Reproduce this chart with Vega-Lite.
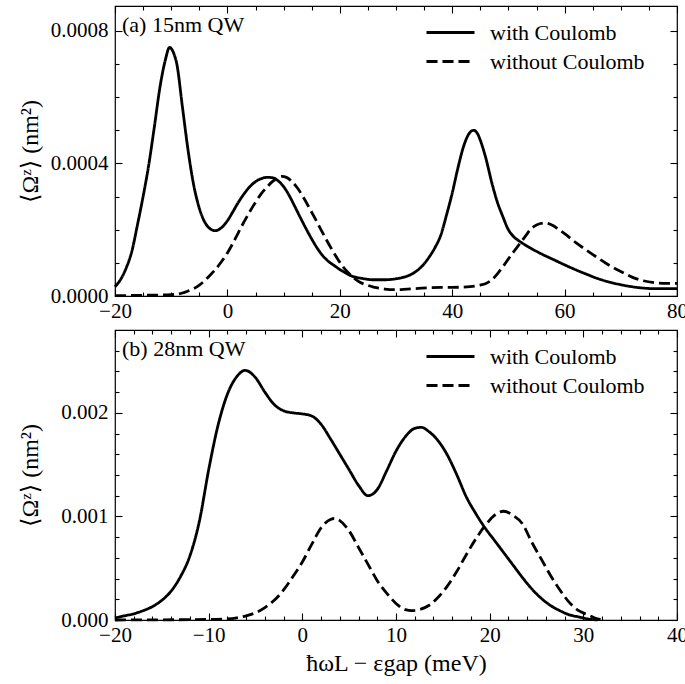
{
"$schema": "https://vega.github.io/schema/vega-lite/v6.json",
"padding": {"left": 17, "top": 4, "right": 8, "bottom": 5},
"background": "white",
"config": {
  "view": {"stroke": "black", "strokeWidth": 1.2},
  "font": "Liberation Serif, DejaVu Serif, serif",
  "axis": {"grid": false, "domain": false, "tickColor": "black", "tickWidth": 1.1, "labelColor": "black", "titleColor": "black", "labelFont": "Liberation Serif, DejaVu Serif, serif", "titleFont": "Liberation Serif, DejaVu Serif, serif", "labelFontSize": 21, "titleFontSize": 24, "titleFontWeight": "normal", "labelFlush": false, "labelOverlap": false},
  "legend": {"orient": "none", "legendX": 319, "legendY": 10, "title": null, "labelFont": "Liberation Serif, DejaVu Serif, serif", "labelFontSize": 22, "labelColor": "black", "symbolType": "M-1.6,0H1.6", "symbolStrokeWidth": 3, "symbolSize": 900, "symbolStrokeColor": "black", "labelOffset": 23, "padding": 0, "rowPadding": 1},
  "line": {"color": "black", "strokeWidth": 2.8, "interpolate": "monotone"}
},
"datasets": {
"a": [
{"e":-20,"v":0.28e-4,"s":"with Coulomb"},{"e":-19,"v":0.5e-4,"s":"with Coulomb"},{"e":-18,"v":0.85e-4,"s":"with Coulomb"},{"e":-17,"v":1.35e-4,"s":"with Coulomb"},{"e":-16,"v":2.15e-4,"s":"with Coulomb"},{"e":-15,"v":3.0e-4,"s":"with Coulomb"},{"e":-14,"v":3.95e-4,"s":"with Coulomb"},{"e":-13,"v":5.1e-4,"s":"with Coulomb"},{"e":-12,"v":6.3e-4,"s":"with Coulomb"},{"e":-11,"v":7.15e-4,"s":"with Coulomb"},{"e":-10.3,"v":7.5e-4,"s":"with Coulomb"},{"e":-9.5,"v":7.3e-4,"s":"with Coulomb"},{"e":-9,"v":7.0e-4,"s":"with Coulomb"},{"e":-8,"v":5.7e-4,"s":"with Coulomb"},{"e":-7,"v":4.4e-4,"s":"with Coulomb"},{"e":-6,"v":3.35e-4,"s":"with Coulomb"},{"e":-5,"v":2.65e-4,"s":"with Coulomb"},{"e":-4,"v":2.22e-4,"s":"with Coulomb"},{"e":-3,"v":2.02e-4,"s":"with Coulomb"},{"e":-2.2,"v":1.97e-4,"s":"with Coulomb"},{"e":-1,"v":2.07e-4,"s":"with Coulomb"},{"e":0,"v":2.27e-4,"s":"with Coulomb"},{"e":1,"v":2.55e-4,"s":"with Coulomb"},{"e":2,"v":2.84e-4,"s":"with Coulomb"},{"e":3,"v":3.09e-4,"s":"with Coulomb"},{"e":4,"v":3.3e-4,"s":"with Coulomb"},{"e":5,"v":3.45e-4,"s":"with Coulomb"},{"e":6,"v":3.54e-4,"s":"with Coulomb"},{"e":7,"v":3.58e-4,"s":"with Coulomb"},{"e":8,"v":3.57e-4,"s":"with Coulomb"},{"e":9,"v":3.48e-4,"s":"with Coulomb"},{"e":10,"v":3.3e-4,"s":"with Coulomb"},{"e":11,"v":3.03e-4,"s":"with Coulomb"},{"e":12,"v":2.7e-4,"s":"with Coulomb"},{"e":13,"v":2.36e-4,"s":"with Coulomb"},{"e":14,"v":2.03e-4,"s":"with Coulomb"},{"e":15,"v":1.72e-4,"s":"with Coulomb"},{"e":16,"v":1.44e-4,"s":"with Coulomb"},{"e":17,"v":1.21e-4,"s":"with Coulomb"},{"e":18,"v":1.04e-4,"s":"with Coulomb"},{"e":19,"v":0.92e-4,"s":"with Coulomb"},{"e":20,"v":0.8e-4,"s":"with Coulomb"},{"e":21,"v":0.7e-4,"s":"with Coulomb"},{"e":22,"v":0.61e-4,"s":"with Coulomb"},{"e":24,"v":0.53e-4,"s":"with Coulomb"},{"e":26,"v":0.49e-4,"s":"with Coulomb"},{"e":28,"v":0.49e-4,"s":"with Coulomb"},{"e":30,"v":0.52e-4,"s":"with Coulomb"},{"e":32,"v":0.6e-4,"s":"with Coulomb"},{"e":33,"v":0.68e-4,"s":"with Coulomb"},{"e":34,"v":0.8e-4,"s":"with Coulomb"},{"e":35,"v":0.97e-4,"s":"with Coulomb"},{"e":36,"v":1.2e-4,"s":"with Coulomb"},{"e":37,"v":1.48e-4,"s":"with Coulomb"},{"e":38,"v":1.85e-4,"s":"with Coulomb"},{"e":39,"v":2.45e-4,"s":"with Coulomb"},{"e":40,"v":3.1e-4,"s":"with Coulomb"},{"e":41,"v":3.85e-4,"s":"with Coulomb"},{"e":42,"v":4.5e-4,"s":"with Coulomb"},{"e":43,"v":4.9e-4,"s":"with Coulomb"},{"e":43.8,"v":5.0e-4,"s":"with Coulomb"},{"e":44.5,"v":4.9e-4,"s":"with Coulomb"},{"e":45,"v":4.7e-4,"s":"with Coulomb"},{"e":46,"v":4.15e-4,"s":"with Coulomb"},{"e":47,"v":3.45e-4,"s":"with Coulomb"},{"e":48,"v":2.85e-4,"s":"with Coulomb"},{"e":49,"v":2.4e-4,"s":"with Coulomb"},{"e":50,"v":2.0e-4,"s":"with Coulomb"},{"e":51,"v":1.78e-4,"s":"with Coulomb"},{"e":52,"v":1.65e-4,"s":"with Coulomb"},{"e":54,"v":1.44e-4,"s":"with Coulomb"},{"e":56,"v":1.26e-4,"s":"with Coulomb"},{"e":58,"v":1.1e-4,"s":"with Coulomb"},{"e":60,"v":0.94e-4,"s":"with Coulomb"},{"e":62,"v":0.79e-4,"s":"with Coulomb"},{"e":64,"v":0.65e-4,"s":"with Coulomb"},{"e":66,"v":0.52e-4,"s":"with Coulomb"},{"e":68,"v":0.42e-4,"s":"with Coulomb"},{"e":70,"v":0.34e-4,"s":"with Coulomb"},{"e":72,"v":0.28e-4,"s":"with Coulomb"},{"e":74,"v":0.24e-4,"s":"with Coulomb"},{"e":76,"v":0.22e-4,"s":"with Coulomb"},{"e":78,"v":0.22e-4,"s":"with Coulomb"},{"e":80,"v":0.22e-4,"s":"with Coulomb"},
{"e":-20,"v":0.01e-4,"s":"without Coulomb"},{"e":-15,"v":0.02e-4,"s":"without Coulomb"},{"e":-10,"v":0.04e-4,"s":"without Coulomb"},{"e":-8,"v":0.09e-4,"s":"without Coulomb"},{"e":-7,"v":0.15e-4,"s":"without Coulomb"},{"e":-6,"v":0.22e-4,"s":"without Coulomb"},{"e":-5,"v":0.33e-4,"s":"without Coulomb"},{"e":-4,"v":0.47e-4,"s":"without Coulomb"},{"e":-3,"v":0.64e-4,"s":"without Coulomb"},{"e":-2,"v":0.83e-4,"s":"without Coulomb"},{"e":-1,"v":1.05e-4,"s":"without Coulomb"},{"e":0,"v":1.3e-4,"s":"without Coulomb"},{"e":1,"v":1.6e-4,"s":"without Coulomb"},{"e":2,"v":1.93e-4,"s":"without Coulomb"},{"e":3,"v":2.25e-4,"s":"without Coulomb"},{"e":4,"v":2.55e-4,"s":"without Coulomb"},{"e":5,"v":2.83e-4,"s":"without Coulomb"},{"e":6,"v":3.08e-4,"s":"without Coulomb"},{"e":7,"v":3.28e-4,"s":"without Coulomb"},{"e":8,"v":3.45e-4,"s":"without Coulomb"},{"e":9,"v":3.57e-4,"s":"without Coulomb"},{"e":9.7,"v":3.61e-4,"s":"without Coulomb"},{"e":10.5,"v":3.58e-4,"s":"without Coulomb"},{"e":11.5,"v":3.45e-4,"s":"without Coulomb"},{"e":12.5,"v":3.25e-4,"s":"without Coulomb"},{"e":13.5,"v":2.98e-4,"s":"without Coulomb"},{"e":14.5,"v":2.68e-4,"s":"without Coulomb"},{"e":15.5,"v":2.37e-4,"s":"without Coulomb"},{"e":16.5,"v":2.05e-4,"s":"without Coulomb"},{"e":17.5,"v":1.73e-4,"s":"without Coulomb"},{"e":18.5,"v":1.43e-4,"s":"without Coulomb"},{"e":19.5,"v":1.15e-4,"s":"without Coulomb"},{"e":20.5,"v":0.9e-4,"s":"without Coulomb"},{"e":21.5,"v":0.7e-4,"s":"without Coulomb"},{"e":22.5,"v":0.54e-4,"s":"without Coulomb"},{"e":23.5,"v":0.42e-4,"s":"without Coulomb"},{"e":24.5,"v":0.35e-4,"s":"without Coulomb"},{"e":26,"v":0.27e-4,"s":"without Coulomb"},{"e":28,"v":0.21e-4,"s":"without Coulomb"},{"e":30,"v":0.19e-4,"s":"without Coulomb"},{"e":32,"v":0.21e-4,"s":"without Coulomb"},{"e":34,"v":0.23e-4,"s":"without Coulomb"},{"e":36,"v":0.25e-4,"s":"without Coulomb"},{"e":38,"v":0.26e-4,"s":"without Coulomb"},{"e":40,"v":0.26e-4,"s":"without Coulomb"},{"e":42,"v":0.27e-4,"s":"without Coulomb"},{"e":44,"v":0.3e-4,"s":"without Coulomb"},{"e":45,"v":0.33e-4,"s":"without Coulomb"},{"e":46,"v":0.38e-4,"s":"without Coulomb"},{"e":47,"v":0.48e-4,"s":"without Coulomb"},{"e":48,"v":0.66e-4,"s":"without Coulomb"},{"e":49,"v":0.88e-4,"s":"without Coulomb"},{"e":50,"v":1.12e-4,"s":"without Coulomb"},{"e":51,"v":1.35e-4,"s":"without Coulomb"},{"e":52,"v":1.57e-4,"s":"without Coulomb"},{"e":53,"v":1.8e-4,"s":"without Coulomb"},{"e":54,"v":2.02e-4,"s":"without Coulomb"},{"e":55,"v":2.14e-4,"s":"without Coulomb"},{"e":56.5,"v":2.2e-4,"s":"without Coulomb"},{"e":58,"v":2.12e-4,"s":"without Coulomb"},{"e":59,"v":2.0e-4,"s":"without Coulomb"},{"e":60,"v":1.88e-4,"s":"without Coulomb"},{"e":62,"v":1.61e-4,"s":"without Coulomb"},{"e":64,"v":1.37e-4,"s":"without Coulomb"},{"e":66,"v":1.14e-4,"s":"without Coulomb"},{"e":68,"v":0.92e-4,"s":"without Coulomb"},{"e":70,"v":0.74e-4,"s":"without Coulomb"},{"e":72,"v":0.57e-4,"s":"without Coulomb"},{"e":74,"v":0.46e-4,"s":"without Coulomb"},{"e":76,"v":0.4e-4,"s":"without Coulomb"},{"e":78,"v":0.38e-4,"s":"without Coulomb"},{"e":80,"v":0.38e-4,"s":"without Coulomb"}
],
"b": [
{"e":-20,"v":0.02e-3,"s":"with Coulomb"},{"e":-19,"v":0.04e-3,"s":"with Coulomb"},{"e":-18,"v":0.06e-3,"s":"with Coulomb"},{"e":-17,"v":0.09e-3,"s":"with Coulomb"},{"e":-16,"v":0.13e-3,"s":"with Coulomb"},{"e":-15,"v":0.19e-3,"s":"with Coulomb"},{"e":-14,"v":0.28e-3,"s":"with Coulomb"},{"e":-13,"v":0.42e-3,"s":"with Coulomb"},{"e":-12,"v":0.62e-3,"s":"with Coulomb"},{"e":-11,"v":0.95e-3,"s":"with Coulomb"},{"e":-10,"v":1.45e-3,"s":"with Coulomb"},{"e":-9,"v":1.88e-3,"s":"with Coulomb"},{"e":-8,"v":2.18e-3,"s":"with Coulomb"},{"e":-7,"v":2.35e-3,"s":"with Coulomb"},{"e":-6.1,"v":2.41e-3,"s":"with Coulomb"},{"e":-5,"v":2.34e-3,"s":"with Coulomb"},{"e":-4,"v":2.2e-3,"s":"with Coulomb"},{"e":-3,"v":2.08e-3,"s":"with Coulomb"},{"e":-2,"v":2.02e-3,"s":"with Coulomb"},{"e":-1,"v":2.0e-3,"s":"with Coulomb"},{"e":0,"v":1.99e-3,"s":"with Coulomb"},{"e":1,"v":1.97e-3,"s":"with Coulomb"},{"e":2,"v":1.89e-3,"s":"with Coulomb"},{"e":3,"v":1.75e-3,"s":"with Coulomb"},{"e":4,"v":1.6e-3,"s":"with Coulomb"},{"e":5,"v":1.45e-3,"s":"with Coulomb"},{"e":6,"v":1.3e-3,"s":"with Coulomb"},{"e":7,"v":1.2e-3,"s":"with Coulomb"},{"e":8,"v":1.26e-3,"s":"with Coulomb"},{"e":9,"v":1.44e-3,"s":"with Coulomb"},{"e":10,"v":1.63e-3,"s":"with Coulomb"},{"e":11,"v":1.77e-3,"s":"with Coulomb"},{"e":12,"v":1.85e-3,"s":"with Coulomb"},{"e":12.7,"v":1.86e-3,"s":"with Coulomb"},{"e":13.5,"v":1.82e-3,"s":"with Coulomb"},{"e":14.5,"v":1.73e-3,"s":"with Coulomb"},{"e":15.5,"v":1.59e-3,"s":"with Coulomb"},{"e":16.5,"v":1.4e-3,"s":"with Coulomb"},{"e":17.5,"v":1.19e-3,"s":"with Coulomb"},{"e":18.5,"v":1.03e-3,"s":"with Coulomb"},{"e":19.5,"v":0.89e-3,"s":"with Coulomb"},{"e":20.5,"v":0.77e-3,"s":"with Coulomb"},{"e":21.5,"v":0.65e-3,"s":"with Coulomb"},{"e":22.5,"v":0.53e-3,"s":"with Coulomb"},{"e":23.5,"v":0.41e-3,"s":"with Coulomb"},{"e":24.5,"v":0.3e-3,"s":"with Coulomb"},{"e":25.5,"v":0.21e-3,"s":"with Coulomb"},{"e":26.5,"v":0.14e-3,"s":"with Coulomb"},{"e":27.5,"v":0.09e-3,"s":"with Coulomb"},{"e":28.5,"v":0.05e-3,"s":"with Coulomb"},{"e":29.5,"v":0.03e-3,"s":"with Coulomb"},{"e":30.5,"v":0.01e-3,"s":"with Coulomb"},{"e":31.5,"v":0.0,"s":"with Coulomb"},
{"e":-20,"v":0.0,"s":"without Coulomb"},{"e":-10,"v":0.005e-3,"s":"without Coulomb"},{"e":-8,"v":0.01e-3,"s":"without Coulomb"},{"e":-7,"v":0.02e-3,"s":"without Coulomb"},{"e":-6,"v":0.04e-3,"s":"without Coulomb"},{"e":-5,"v":0.07e-3,"s":"without Coulomb"},{"e":-4,"v":0.12e-3,"s":"without Coulomb"},{"e":-3,"v":0.19e-3,"s":"without Coulomb"},{"e":-2,"v":0.29e-3,"s":"without Coulomb"},{"e":-1,"v":0.42e-3,"s":"without Coulomb"},{"e":0,"v":0.56e-3,"s":"without Coulomb"},{"e":1,"v":0.73e-3,"s":"without Coulomb"},{"e":2,"v":0.89e-3,"s":"without Coulomb"},{"e":3,"v":0.97e-3,"s":"without Coulomb"},{"e":3.4,"v":0.98e-3,"s":"without Coulomb"},{"e":4,"v":0.96e-3,"s":"without Coulomb"},{"e":5,"v":0.86e-3,"s":"without Coulomb"},{"e":6,"v":0.7e-3,"s":"without Coulomb"},{"e":7,"v":0.54e-3,"s":"without Coulomb"},{"e":8,"v":0.38e-3,"s":"without Coulomb"},{"e":9,"v":0.26e-3,"s":"without Coulomb"},{"e":10,"v":0.16e-3,"s":"without Coulomb"},{"e":11,"v":0.1e-3,"s":"without Coulomb"},{"e":11.7,"v":0.09e-3,"s":"without Coulomb"},{"e":12.5,"v":0.1e-3,"s":"without Coulomb"},{"e":13.5,"v":0.14e-3,"s":"without Coulomb"},{"e":14.5,"v":0.22e-3,"s":"without Coulomb"},{"e":15.5,"v":0.33e-3,"s":"without Coulomb"},{"e":16.5,"v":0.47e-3,"s":"without Coulomb"},{"e":17.5,"v":0.63e-3,"s":"without Coulomb"},{"e":18.5,"v":0.78e-3,"s":"without Coulomb"},{"e":19.5,"v":0.91e-3,"s":"without Coulomb"},{"e":20.5,"v":1.01e-3,"s":"without Coulomb"},{"e":21.5,"v":1.05e-3,"s":"without Coulomb"},{"e":22.5,"v":1.01e-3,"s":"without Coulomb"},{"e":23.5,"v":0.93e-3,"s":"without Coulomb"},{"e":24.5,"v":0.75e-3,"s":"without Coulomb"},{"e":25.5,"v":0.59e-3,"s":"without Coulomb"},{"e":26.5,"v":0.43e-3,"s":"without Coulomb"},{"e":27.5,"v":0.29e-3,"s":"without Coulomb"},{"e":28.5,"v":0.17e-3,"s":"without Coulomb"},{"e":29.5,"v":0.09e-3,"s":"without Coulomb"},{"e":30.5,"v":0.05e-3,"s":"without Coulomb"},{"e":31.5,"v":0.01e-3,"s":"without Coulomb"},{"e":32,"v":0.0,"s":"without Coulomb"}
]
},
"spacing": 34,
"bounds": "flush",
"resolve": {"scale": {"strokeDash": "independent", "x": "independent", "y": "independent"}, "legend": {"strokeDash": "independent"}},
"vconcat": [
{
  "width": 562, "height": 290,
  "data": {"name": "a"},
  "resolve": {"axis": {"x": "independent", "y": "independent"}},
  "layer": [
    {"mark": {"type": "line"},
     "encoding": {
       "x": {"field": "e", "type": "quantitative", "scale": {"domain": [-20, 80], "nice": false, "zero": false},
             "axis": {"orient": "bottom", "values": [-20, 0, 20, 40, 60, 80], "format": "d", "tickSize": -7, "labelPadding": 11, "title": null}},
       "y": {"field": "v", "type": "quantitative", "scale": {"domain": [0, 0.000875], "nice": false, "zero": false},
             "axis": {"orient": "left", "values": [0, 0.0004, 0.0008], "format": ".4f", "tickSize": -7, "labelPadding": 14, "title": "⟨Ωᶻ⟩ (nm²)", "titlePadding": 8}},
       "strokeDash": {"field": "s", "type": "nominal", "scale": {"domain": ["with Coulomb", "without Coulomb"], "range": [[1, 0], [11, 5]]}},
       "detail": {"field": "s"}
     }},
    {"mark": {"type": "line", "opacity": 0},
     "encoding": {
       "x": {"field": "e", "type": "quantitative", "axis": {"orient": "bottom", "values": [-15, -10, -5, 5, 10, 15, 25, 30, 35, 45, 50, 55, 65, 70, 75], "labels": false, "tickSize": -4, "title": null}},
       "y": {"field": "v", "type": "quantitative", "axis": {"orient": "left", "values": [0.0001, 0.0002, 0.0003, 0.0005, 0.0006, 0.0007], "labels": false, "tickSize": -4, "title": null}},
       "detail": {"field": "s"}
     }},
    {"mark": {"type": "line", "opacity": 0},
     "encoding": {
       "x": {"field": "e", "type": "quantitative", "axis": {"orient": "top", "values": [-20, 0, 20, 40, 60, 80], "labels": false, "tickSize": -7, "title": null}},
       "y": {"field": "v", "type": "quantitative", "axis": {"orient": "right", "values": [0, 0.0004, 0.0008], "labels": false, "tickSize": -7, "title": null}},
       "detail": {"field": "s"}
     }},
    {"mark": {"type": "line", "opacity": 0},
     "encoding": {
       "x": {"field": "e", "type": "quantitative", "axis": {"orient": "top", "values": [-15, -10, -5, 5, 10, 15, 25, 30, 35, 45, 50, 55, 65, 70, 75], "labels": false, "tickSize": -4, "title": null}},
       "y": {"field": "v", "type": "quantitative", "axis": {"orient": "right", "values": [0.0001, 0.0002, 0.0003, 0.0005, 0.0006, 0.0007], "labels": false, "tickSize": -4, "title": null}},
       "detail": {"field": "s"}
     }},
    {"data": {"values": [{"label": "(a) 15nm QW"}]},
     "mark": {"type": "text", "align": "left", "baseline": "top", "dx": 7, "dy": 9, "fontSize": 22, "font": "Liberation Serif, DejaVu Serif, serif", "color": "black"},
     "encoding": {
       "x": {"datum": -20, "type": "quantitative", "axis": null},
       "y": {"datum": 0.000875, "type": "quantitative", "axis": null},
       "text": {"field": "label"}
     }}
  ]
},
{
  "width": 562, "height": 290,
  "data": {"name": "b"},
  "resolve": {"axis": {"x": "independent", "y": "independent"}},
  "layer": [
    {"mark": {"type": "line"},
     "encoding": {
       "x": {"field": "e", "type": "quantitative", "scale": {"domain": [-20, 40], "nice": false, "zero": false},
             "axis": {"orient": "bottom", "values": [-20, -10, 0, 10, 20, 30, 40], "format": "d", "tickSize": -7, "labelPadding": 11, "title": "ħωL − εgap (meV)", "titlePadding": 6}},
       "y": {"field": "v", "type": "quantitative", "scale": {"domain": [0, 0.0028], "nice": false, "zero": false},
             "axis": {"orient": "left", "values": [0, 0.001, 0.002], "format": ".3f", "tickSize": -7, "labelPadding": 14, "title": "⟨Ωᶻ⟩ (nm²)", "titlePadding": 18}},
       "strokeDash": {"field": "s", "type": "nominal", "scale": {"domain": ["with Coulomb", "without Coulomb"], "range": [[1, 0], [11, 5]]}},
       "detail": {"field": "s"}
     }},
    {"mark": {"type": "line", "opacity": 0},
     "encoding": {
       "x": {"field": "e", "type": "quantitative", "axis": {"orient": "bottom", "values": [-18, -16, -14, -12, -8, -6, -4, -2, 2, 4, 6, 8, 12, 14, 16, 18, 22, 24, 26, 28, 32, 34, 36, 38], "labels": false, "tickSize": -4, "title": null}},
       "y": {"field": "v", "type": "quantitative", "axis": {"orient": "left", "values": [0.0002, 0.0004, 0.0006, 0.0008, 0.0012, 0.0014, 0.0016, 0.0018, 0.0022, 0.0024, 0.0026], "labels": false, "tickSize": -4, "title": null}},
       "detail": {"field": "s"}
     }},
    {"mark": {"type": "line", "opacity": 0},
     "encoding": {
       "x": {"field": "e", "type": "quantitative", "axis": {"orient": "top", "values": [-20, -10, 0, 10, 20, 30, 40], "labels": false, "tickSize": -7, "title": null}},
       "y": {"field": "v", "type": "quantitative", "axis": {"orient": "right", "values": [0, 0.001, 0.002], "labels": false, "tickSize": -7, "title": null}},
       "detail": {"field": "s"}
     }},
    {"mark": {"type": "line", "opacity": 0},
     "encoding": {
       "x": {"field": "e", "type": "quantitative", "axis": {"orient": "top", "values": [-18, -16, -14, -12, -8, -6, -4, -2, 2, 4, 6, 8, 12, 14, 16, 18, 22, 24, 26, 28, 32, 34, 36, 38], "labels": false, "tickSize": -4, "title": null}},
       "y": {"field": "v", "type": "quantitative", "axis": {"orient": "right", "values": [0.0002, 0.0004, 0.0006, 0.0008, 0.0012, 0.0014, 0.0016, 0.0018, 0.0022, 0.0024, 0.0026], "labels": false, "tickSize": -4, "title": null}},
       "detail": {"field": "s"}
     }},
    {"data": {"values": [{"label": "(b) 28nm QW"}]},
     "mark": {"type": "text", "align": "left", "baseline": "top", "dx": 7, "dy": 9, "fontSize": 22, "font": "Liberation Serif, DejaVu Serif, serif", "color": "black"},
     "encoding": {
       "x": {"datum": -20, "type": "quantitative", "axis": null},
       "y": {"datum": 0.0028, "type": "quantitative", "axis": null},
       "text": {"field": "label"}
     }}
  ]
}
]
}
